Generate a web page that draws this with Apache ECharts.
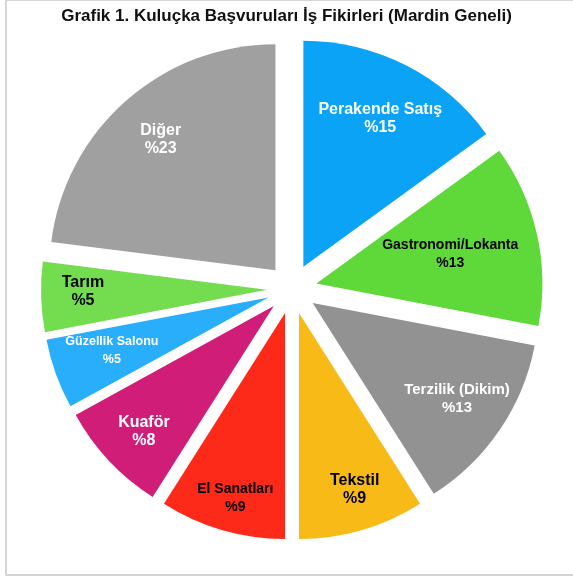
<!DOCTYPE html>
<html>
<head>
<meta charset="utf-8">
<script src="https://cdn.jsdelivr.net/npm/echarts@6/dist/echarts.min.js"></script>
<style>
  html, body { margin: 0; padding: 0; background: #fff; }
  #chart { width: 573px; height: 579px; }
</style>
</head>
<body>
<div id="chart"></div>
<script>
    // data (percent)
    var categories = ['Perakende Satış', 'Gastronomi/Lokanta', 'Terzilik (Dikim)', 'Tekstil',
        'El Sanatları', 'Kuaför', 'Güzellik Salonu', 'Tarım', 'Diğer'];
    var values = [15, 13, 13, 9, 9, 8, 5, 5, 23];

    // styles
    var colors = ['#0aa3f6', '#5fd83a', '#929292', '#f8ba17', '#fd2a19', '#d01d78', '#29aefc', '#74dd4f', '#a0a0a0'];
    var labelColors = ['#fff', '#000', '#fff', '#000', '#000', '#fff', '#fff', '#000', '#fff'];
    var labelSizes = [16, 14, 15, 16, 14, 16, 12.5, 16, 16];
    // small nudges [dx, dy] of the labels from where the pie puts them
    var labelShift = [[-4, 11], [-40, 9], [-3, -4], [6, 6], [0, 14], [0, 4], [11, -7], [-6, -4], [3, 3]];

    var center = [292, 289];
    var R = 226;

    var baseData = categories.map(function (name, i) {
        return {
            name: name, value: values[i], selected: true,
            itemStyle: { color: colors[i] }
        };
    });
    var labelData = categories.map(function (name, i) {
        var dx = labelShift[i][0];
        return {
            name: name, value: values[i], selected: true,
            itemStyle: { color: 'rgba(0,0,0,0)' },
            label: {
                color: labelColors[i],
                fontSize: labelSizes[i],
                padding: [0, Math.max(-dx, 0) * 2, 0, Math.max(dx, 0) * 2],
                rich: {
                    t: { fontSize: labelSizes[i], lineHeight: 18, color: labelColors[i] },
                    s: { fontSize: 1, lineHeight: Math.max(Math.abs(labelShift[i][1]) * 2, 1) }
                }
            }
        };
    });

    function labelText(p) {
        var dy = labelShift[p.dataIndex][1];
        var txt = '{t|' + p.name + '}\n{t|%' + p.value + '}';
        if (dy > 0) return '{s| }\n' + txt;
        if (dy < 0) return txt + '\n{s| }';
        return txt;
    }

    var chart = echarts.init(document.getElementById('chart'));
    chart.setOption({
        animation: false,
        title: {
            text: 'Grafik 1. Kuluçka Başvuruları İş Fikirleri (Mardin Geneli)',
            left: 'center', top: 3,
            textStyle: { fontFamily: 'Liberation Sans', fontWeight: 'bold', fontSize: 17, color: '#111' }
        },
        graphic: [{
            type: 'rect',
            shape: { x: 6, y: 0, width: 580, height: 575 },
            style: { fill: 'none', stroke: '#d6d6d6', lineWidth: 2 },
            silent: true
        }],
        series: [{
            type: 'pie',
            center: center,
            radius: [0, R],
            startAngle: 90,
            selectedMode: 'multiple',
            selectedOffset: 25,
            label: { show: false },
            labelLine: { show: false },
            emphasis: { disabled: true },
            itemStyle: { borderWidth: 0 },
            data: baseData
        }, {
            // transparent overlay only to place the labels at ~3/4 of the radius
            type: 'pie',
            center: center,
            radius: [R * 0.55, R],
            startAngle: 90,
            selectedMode: 'multiple',
            selectedOffset: 25,
            silent: true,
            avoidLabelOverlap: false,
            labelLine: { show: false },
            emphasis: { disabled: true },
            label: {
                show: true,
                position: 'inside',
                fontFamily: 'Liberation Sans',
                fontWeight: 'bold',
                lineHeight: 18,
                formatter: labelText
            },
            data: labelData
        }]
    });
</script>
</body>
</html>
